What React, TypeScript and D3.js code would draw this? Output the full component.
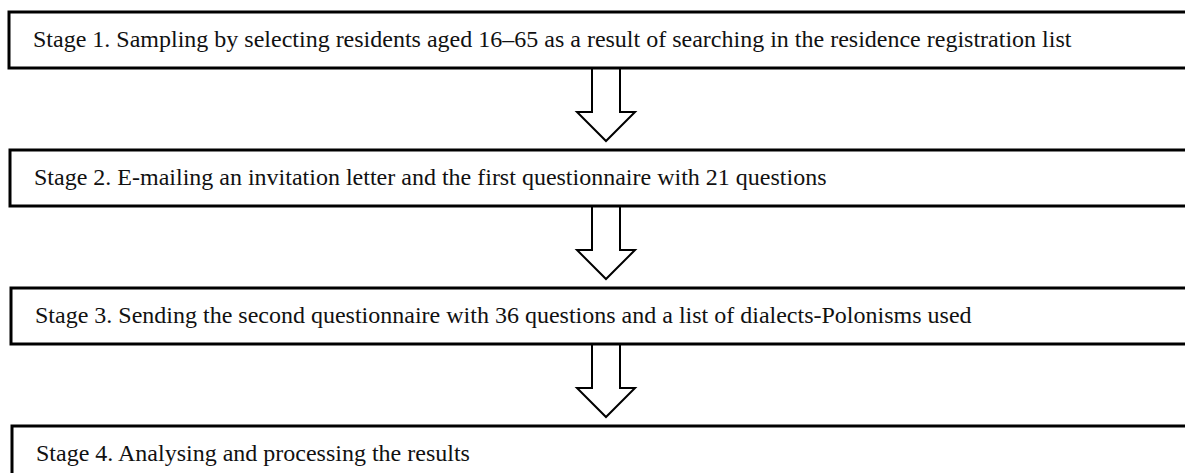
import * as d3 from "d3";

const stages = [
  "Stage 1. Sampling by selecting residents aged 16\u201365 as a result of searching in the residence registration list",
  "Stage 2. E-mailing an invitation letter and the first questionnaire with 21 questions",
  "Stage 3. Sending the second questionnaire with 36 questions and a list of dialects-Polonisms used",
  "Stage 4. Analysing and processing the results",
];

export default function App() {
  const width = 1185;
  const height = 473;

  const idx = d3.range(stages.length);
  const yTop = d3.scaleLinear().domain([0, stages.length - 1]).range([12, 426]);
  const xLeft = d3.scaleLinear().domain([0, stages.length - 1]).range([9, 12]);
  const boxH = 56;

  // arrow between box i and i+1
  const arrowX = 606;
  const shaftHalf = 14;
  const headHalf = 29;
  const arrowPath = (i: number) => {
    const y0 = yTop(i) + boxH;
    const y1 = yTop(i + 1);
    const tip = y1 - 9;
    const headTop = tip - 29;
    const p = d3.path();
    p.moveTo(arrowX - shaftHalf, y0);
    p.lineTo(arrowX - shaftHalf, headTop);
    p.lineTo(arrowX - headHalf, headTop);
    p.lineTo(arrowX, tip);
    p.lineTo(arrowX + headHalf, headTop);
    p.lineTo(arrowX + shaftHalf, headTop);
    p.lineTo(arrowX + shaftHalf, y0);
    return p.toString();
  };

  return (
    <svg
      width={width}
      height={height}
      style={{ position: "absolute", left: 0, top: 0, background: "#fff" }}
      xmlns="http://www.w3.org/2000/svg"
    >
      {idx.slice(0, -1).map((i) => (
        <path key={"a" + i} d={arrowPath(i)} fill="#fff" stroke="#000" strokeWidth={2} />
      ))}
      {idx.map((i) => (
        <g key={i}>
          <rect
            x={xLeft(i)}
            y={yTop(i)}
            width={width + 20}
            height={boxH}
            fill="#fff"
            stroke="#000"
            strokeWidth={3}
          />
          <text
            x={xLeft(i) + 24}
            y={yTop(i) + 35}
            fontFamily="'Liberation Serif', 'Times New Roman', serif"
            fontSize={24}
            fill="#111"
          >
            {stages[i]}
          </text>
        </g>
      ))}
    </svg>
  );
}
